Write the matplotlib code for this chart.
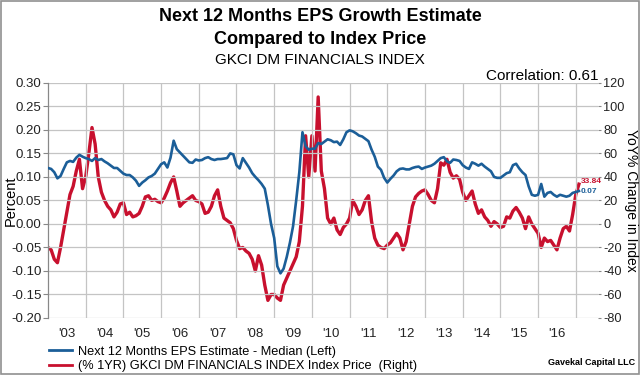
import matplotlib
matplotlib.use("Agg")
import matplotlib.pyplot as plt
from matplotlib.lines import Line2D
import numpy as np

plt.rcParams['font.family'] = ['Liberation Sans', 'DejaVu Sans']

# Monthly readings, Jan 2003 .. Feb 2017
start_year = 2003
eps_median = [
    .119, .117, .110, .097, .102, .117, .131, .134, .132, .141, .147, .143,
    .140, .138, .134, .140, .136, .138, .133, .129, .124, .119, .119, .113,
    .107, .104, .104, .099, .092, .081, .088, .093, .099, .102, .107, .117,
    .127, .131, .120, .141, .177, .159, .152, .145, .138, .131, .130, .137,
    .135, .136, .140, .142, .138, .136, .138, .138, .139, .140, .150, .148,
    .125, .118, .140, .130, .120, .108, .100, .093, .085, .075, .040, .000,
    -.030, -.090, -.105, -.095, -.070, -.040, -.005, .050, .110, .195, .165, .158,
    .160, .160, .172, .170, .175, .180, .178, .174, .175, .168, .180, .195,
    .199, .197, .193, .188, .186, .181, .176, .158, .143, .122, .115, .098,
    .088, .096, .103, .112, .117, .118, .116, .116, .119, .121, .122, .117,
    .120, .122, .124, .128, .134, .140, .142, .133, .130, .137, .136, .134,
    .125, .120, .117, .131, .128, .124, .128, .122, .117, .112, .100, .098,
    .098, .103, .108, .110, .125, .128, .118, .110, .104, .080, .062, .060,
    .062, .085, .058, .066, .068, .062, .058, .062, .060, .058, .060, .066,
    .068, .070,
]
index_yoy = [
    -20, -22, -30, -33, -20, -5, 10, 25, 32, 45, 55, 30,
    40, 60, 82, 68, 40, 27, 20, 15, 12, 6, 10, 17,
    18, 8, 10, 6, 7, 9, 15, 23, 24, 20, 21, 19,
    18, 22, 28, 35, 40, 28, 15, 18, 20, 22, 24, 20,
    19, 17, 9, 10, 15, 24, 29, 15, 5, 3, 1, -4,
    -14, -21, -20, -23, -25, -30, -40, -27, -35, -52, -65, -60,
    -60, -63, -65, -52, -46, -40, -34, -28, -15, 15, 75, 40,
    75, 45, 108, 45, 30, 5, 0, 5, -5, -9, -3, 0,
    5, 20, 15, 8, 12, 20, 24, 2, -12, -18, -20, -21,
    -18, -16, -12, -8, -12, -22, -15, 0, 15, 23, 26, 28,
    29, 25, 20, 18, 30, 52, 50, 55, 44, 39, 41, 38,
    27, 20, 24, 28, 17, 9, 12, 6, 3, -2, 2, 0,
    -3, -2, 6, 5, 11, 14, 10, 5, -4, 6, 0, -4,
    -8, -20, -12, -15, -14, -18, -22, -12, -4, -2, -6, 8,
    25, 33.84,
]
year_labels = ["'03", "'04", "'05", "'06", "'07", "'08", "'09", "'10",
               "'11", "'12", "'13", "'14", "'15", "'16"]
left_ticks = [0.30, 0.25, 0.20, 0.15, 0.10, 0.05, 0.00, -0.05, -0.10, -0.15, -0.20]
right_ticks = [120, 100, 80, 60, 40, 20, 0, -20, -40, -60, -80]

t = start_year + np.arange(len(eps_median)) / 12.0

BLUE = '#1b5e98'
RED = '#c8102e'
GRID = '#c4c4c4'

fig = plt.figure(figsize=(6.4, 3.75), dpi=100)
ax = fig.add_axes([0.075, 0.152, 0.86, 0.627])
ax2 = ax.twinx()

ax.set_xlim(2003.0, 2017.6)
ax.set_ylim(-0.20, 0.30)
ax2.set_ylim(-80, 120)

ax.set_yticks(left_ticks)
ax.set_yticklabels([f"{v:.2f}" for v in left_ticks])
ax2.set_yticks(right_ticks)
ax2.set_yticklabels([str(v) for v in right_ticks])

# year gridlines at year boundaries, labels at mid-year
ax.set_xticks(np.arange(2004, 2018), minor=False)
ax.set_xticklabels([''] * 14)
ax.set_xticks(np.arange(2003, 2017) + 0.5, minor=True)
ax.set_xticklabels(year_labels, minor=True)
ax.tick_params(axis='x', which='both', length=0, labelsize=9.5, pad=7, colors='#222222')
ax.grid(True, which='major', color=GRID, linewidth=0.9)
ax.set_axisbelow(True)

ax.tick_params(axis='y', labelsize=9.5, length=3.5, width=0.8, pad=1, color='#888888',
               colors='#222222')
ax2.tick_params(axis='y', labelsize=9.2, length=2.5, width=0.8, pad=1, color='#888888',
                colors='#222222')

for s in ['top', 'right', 'bottom']:
    ax.spines[s].set_visible(False)
    ax2.spines[s].set_visible(False)
ax2.spines['left'].set_visible(False)
ax.spines['left'].set_color('#888888')
ax.spines['left'].set_linewidth(0.9)

# axis titles placed as figure text
fig.text(11 / 640, 0.465, 'Percent', rotation=90, ha='center', va='center',
         fontsize=10.5)
fig.text(631.5 / 640, 0.465, 'YoY% Change in Index', rotation=270, ha='center',
         va='center', fontsize=10)

ax.plot(t, eps_median, color=BLUE, linewidth=1.9, zorder=3)
ax2.plot(t, index_yoy, color=RED, linewidth=2.4, zorder=2)
ax.set_zorder(ax2.get_zorder() + 1)
ax.patch.set_visible(False)

ax2.text(t[-1] + 0.05, index_yoy[-1] + 2, f"{index_yoy[-1]:.2f}", color=RED,
         fontsize=6, fontweight='bold', va='center', ha='left')
ax.text(t[-1] + 0.05, eps_median[-1], f"{eps_median[-1]:.2f}", color=BLUE,
        fontsize=6, fontweight='bold', va='center', ha='left')

fig.text(0.5, 0.955, 'Next 12 Months EPS Growth Estimate', ha='center', va='center',
         fontsize=13, fontweight='bold')
fig.text(0.5, 0.895, 'Compared to Index Price', ha='center', va='center',
         fontsize=13, fontweight='bold')
fig.text(0.5, 0.84, 'GKCI DM FINANCIALS INDEX', ha='center', va='center', fontsize=11)
fig.text(0.935, 0.797, 'Correlation: 0.61', ha='right', va='center', fontsize=11)

handles = [Line2D([0], [0], color=BLUE, linewidth=2),
           Line2D([0], [0], color=RED, linewidth=2)]
fig.legend(handles, ['Next 12 Months EPS Estimate - Median (Left)',
                     '(% 1YR) GKCI DM FINANCIALS INDEX Index Price  (Right)'],
           loc='lower left', bbox_to_anchor=(0.06, -0.02), frameon=False,
           fontsize=9.2, handlelength=1.8, handletextpad=0.5, labelspacing=0.2,
           borderpad=0.3)
fig.text(0.992, 0.022, 'Gavekal Capital LLC', ha='right', va='bottom', fontsize=6.5,
         fontweight='bold')

border = plt.Rectangle((0.002, 0.003), 0.996, 0.994, transform=fig.transFigure,
                       fill=False, edgecolor='#909090', linewidth=1.2)
fig.add_artist(border)

fig.savefig('out.png', dpi=100)
